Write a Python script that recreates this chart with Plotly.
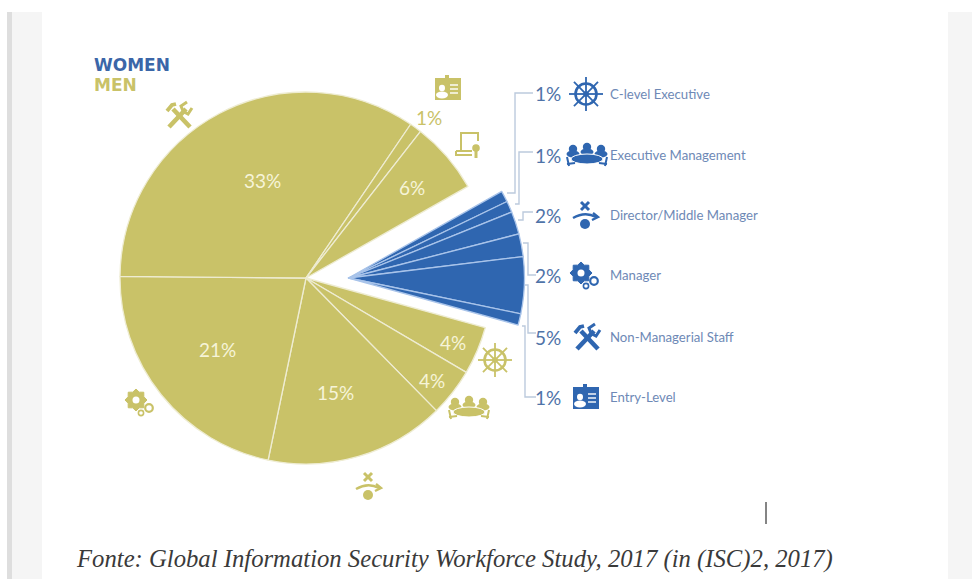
import math
import plotly.graph_objects as go

W, H = 972, 579

# Share of the workforce by job level, in percent
men_levels = ["C-level Executive", "Executive Management", "Director/Middle Manager", "Manager",
              "Non-Managerial Staff", "Entry-Level", "Other"]
men_values = [4, 4, 15, 21, 33, 1, 6]
women_levels = ["C-level Executive", "Executive Management", "Director/Middle Manager", "Manager",
                "Non-Managerial Staff", "Entry-Level"]
women_values = [1, 1, 2, 2, 5, 1]

GOLD = "#c9c268"
GOLD_LINE = "#eeecd2"
BLUE = "#2f66b0"
BLUE_LINE = "#a9c4ea"
PCT_BLUE = "#4f73a8"
TXT_BLUE = "#6e89b6"
WIRE = "#bccadd"


def fx(x):
    return x / W


def fy(y):
    return 1 - y / H


def pie_domain(cx, cy, r):
    return dict(x=[fx(cx - r), fx(cx + r)], y=[fy(cy + r), fy(cy - r)])


shapes = []


def polyline(pts, color, width=1.5, fill=None, closed=False):
    d = "M" + " L".join(f"{fx(x):.5f},{fy(y):.5f}" for x, y in pts) + (" Z" if closed else "")
    shapes.append(dict(type="path", path=d, xref="paper", yref="paper",
                       line=dict(color=color, width=width), fillcolor=fill or "rgba(0,0,0,0)"))


def curve(p0, c, p1, color, width):
    d = (f"M{fx(p0[0]):.5f},{fy(p0[1]):.5f} Q{fx(c[0]):.5f},{fy(c[1]):.5f} "
         f"{fx(p1[0]):.5f},{fy(p1[1]):.5f}")
    shapes.append(dict(type="path", path=d, xref="paper", yref="paper",
                       line=dict(color=color, width=width), fillcolor="rgba(0,0,0,0)"))


def ellipse(cx, cy, rx, ry, fill=None, color=None, width=0):
    shapes.append(dict(type="circle", xref="paper", yref="paper",
                       x0=fx(cx - rx), x1=fx(cx + rx), y0=fy(cy + ry), y1=fy(cy - ry),
                       fillcolor=fill or "rgba(0,0,0,0)",
                       line=dict(color=color or "rgba(0,0,0,0)", width=width)))


def rect(x0, y0, x1, y1, fill, layer="above"):
    shapes.append(dict(type="rect", xref="paper", yref="paper", x0=fx(x0), x1=fx(x1),
                       y0=fy(y1), y1=fy(y0), fillcolor=fill, line=dict(width=0), layer=layer))


def helm(cx, cy, c):
    ellipse(cx, cy, 10.5, 10.5, color=c, width=2.6)
    ellipse(cx, cy, 2.8, 2.8, fill=c)
    for k in range(8):
        a = math.radians(k * 45)
        polyline([(cx + 2 * math.cos(a), cy + 2 * math.sin(a)),
                  (cx + 17 * math.cos(a), cy + 17 * math.sin(a))], c, 1.8)


def meeting(cx, cy, c):
    for dx, dy in ((-14, -6), (0, -8), (14, -6)):
        ellipse(cx + dx, cy + dy, 4.2, 4.2, fill=c)
        ellipse(cx + dx, cy + dy + 5, 6.5, 3.5, fill=c)
    ellipse(cx, cy + 4, 16, 5, fill=c, color="#ffffff", width=1)
    polyline([(cx - 20, cy + 9), (cx - 12, cy + 8)], c, 2)
    polyline([(cx + 20, cy + 9), (cx + 12, cy + 8)], c, 2)
    polyline([(cx - 20, cy + 2), (cx - 18, cy + 11)], c, 2)
    polyline([(cx + 20, cy + 2), (cx + 18, cy + 11)], c, 2)


def pivot(cx, cy, c):
    polyline([(cx - 4, cy - 14), (cx + 4, cy - 6)], c, 3)
    polyline([(cx + 4, cy - 14), (cx - 4, cy - 6)], c, 3)
    curve((cx - 12, cy + 2), (cx, cy - 5), (cx + 11, cy + 1), c, 2.4)
    polyline([(cx + 8, cy - 3), (cx + 13, cy + 1), (cx + 7, cy + 4)], c, 2.4)
    ellipse(cx, cy + 8, 5, 5, fill=c)


def gear(cx, cy, ro, ri, teeth, hole, c):
    pts = []
    for k in range(teeth * 2):
        a = math.pi * k / teeth
        r = ro if k % 2 == 0 else ri
        pts.append((cx + r * math.cos(a), cy + r * math.sin(a)))
    polyline(pts, c, 1, fill=c, closed=True)
    ellipse(cx, cy, hole, hole, fill="#ffffff")


def gears(cx, cy, c):
    gear(cx - 4, cy - 4, 11, 8.5, 8, 3.5, c)
    ellipse(cx + 9, cy + 4, 3.8, 3.8, color=c, width=2.2)
    ellipse(cx + 1, cy + 9, 2.6, 2.6, color=c, width=1.6)


def tools(cx, cy, c):
    polyline([(cx - 10, cy + 12), (cx + 7, cy - 6)], c, 4.6)
    polyline([(cx + 4, cy - 4), (cx + 2, cy - 9), (cx + 8, cy - 13)], c, 3)
    polyline([(cx + 5, cy - 3), (cx + 9, cy - 1), (cx + 13, cy - 7)], c, 3)
    polyline([(cx - 6, cy - 6), (cx + 11, cy + 12)], c, 4.6)
    polyline([(cx - 12, cy - 4), (cx - 7, cy - 10), (cx - 3, cy - 11)], c, 3.8)


def badge(cx, cy, c):
    rect(cx - 13, cy - 10, cx + 13, cy + 12, c)
    rect(cx - 3, cy - 13, cx + 1, cy - 9, c)
    ellipse(cx - 6, cy, 3, 3.2, fill="#ffffff")
    ellipse(cx - 6, cy + 7, 6, 3.4, fill="#ffffff")
    for dy in (-3, 1, 5):
        polyline([(cx + 2, cy + dy), (cx + 10, cy + dy)], "#ffffff", 1.4)


def certificate(cx, cy, c):
    polyline([(cx - 7, cy + 6), (cx - 7, cy - 12), (cx + 10, cy - 12), (cx + 10, cy - 4)], c, 2)
    polyline([(cx - 12, cy + 6), (cx + 4, cy + 6)], c, 2)
    polyline([(cx - 12, cy + 6), (cx - 12, cy + 10), (cx + 4, cy + 10)], c, 2)
    ellipse(cx + 8, cy + 3, 3.8, 3.8, fill=c)
    polyline([(cx + 8, cy + 5), (cx + 8, cy + 13)], c, 3)


# Page backdrop: grey margins start just below a white strip
rect(7, 12, 12, H, "#dedede", layer="below")
rect(12, 12, 42, H, "#f5f5f5", layer="below")
rect(948, 12, W, H, "#f5f5f5", layer="below")

# Elbow connectors from the women's wedge to its legend rows
for route in (
    [(507, 193), (515, 193), (515, 93), (533, 93)],
    [(515, 204), (519, 204), (519, 152), (533, 152)],
    [(518, 220), (523, 220), (523, 212), (533, 212)],
    [(523, 243), (528, 243), (528, 275), (536, 275)],
    [(525, 285), (528, 285), (528, 333), (536, 333)],
    [(522, 326), (525, 326), (525, 397), (536, 397)],
):
    polyline(route, WIRE, 1.4)

# Icons on the women's side
helm(586, 94, BLUE)
meeting(587, 155, BLUE)
pivot(585, 216, BLUE)
gears(585, 277, BLUE)
tools(587, 337, BLUE)
badge(586, 397, BLUE)

# Icons around the men's pie
helm(495, 360, GOLD)
meeting(469, 408, GOLD)
pivot(368, 487, GOLD)
gears(140, 404, GOLD)
tools(179, 115, GOLD)
badge(448, 88, GOLD)
certificate(468, 145, GOLD)

# Text cursor below the chart
polyline([(766, 502), (766, 524)], "#333333", 1.2)

men_gap = sum(women_values)
fig = go.Figure()
fig.add_trace(go.Pie(
    labels=men_levels + ["gap"], values=men_values + [men_gap], sort=False,
    direction="clockwise", rotation=105.5, textinfo="none", hoverinfo="label+value",
    showlegend=False, domain=pie_domain(306, 278, 186),
    marker=dict(colors=[GOLD] * len(men_values) + ["rgba(0,0,0,0)"],
                line=dict(color=[GOLD_LINE] * len(men_values) + ["rgba(0,0,0,0)"],
                          width=[1.3] * len(men_values) + [0])),
))
women_rest = sum(men_values)
fig.add_trace(go.Pie(
    labels=women_levels + ["rest"], values=women_values + [women_rest], sort=False,
    direction="clockwise", rotation=60.5, textinfo="none", hoverinfo="label+value",
    showlegend=False, domain=pie_domain(348.5, 278, 176),
    marker=dict(colors=[BLUE] * len(women_values) + ["rgba(0,0,0,0)"],
                line=dict(color=[BLUE_LINE] * len(women_values) + ["rgba(0,0,0,0)"],
                          width=[1.3] * len(women_values) + [0])),
))

annotations = []


def label(x, y, text, size, color, anchor="center", family="Lato", **extra):
    annotations.append(dict(x=fx(x), y=fy(y), xref="paper", yref="paper", text=text,
                            showarrow=False, xanchor=anchor, yanchor="middle",
                            font=dict(size=size, color=color, family=family), **extra))


label(92, 65, "<b>WOMEN</b>", 17, "#3b66a8", anchor="left", family="DejaVu Sans")
label(92, 85, "<b>MEN</b>", 17, GOLD, anchor="left", family="DejaVu Sans")

# Value labels on the men's slices, in slice order
men_label_xy = [(453, 342), (432, 380), (335, 392), (217, 349), (262, 180), (429, 117), (412, 187)]
for (x, y), v in zip(men_label_xy, men_values):
    color = GOLD if v == 1 else "#f6f4d8"
    label(x, y, f"{v}%", 19, color)

# Legend rows for the women's wedge, top to bottom
row_y = [94, 155, 215, 275, 337, 397]
for y, v, name in zip(row_y, women_values, women_levels):
    label(563, y, f"{v}%", 19, PCT_BLUE, anchor="right")
    label(608, y, name, 13.2, TXT_BLUE, anchor="left")

label(74, 559, "<i>Fonte: Global Information Security Workforce Study, 2017 (in (ISC)2, 2017)</i>",
      24.7, "#3a3a3a", anchor="left", family="Liberation Serif")

fig.update_layout(width=W, height=H, margin=dict(l=0, r=0, t=0, b=0),
                  paper_bgcolor="#ffffff", plot_bgcolor="#ffffff",
                  shapes=shapes, annotations=annotations)
fig.write_html("out.html")
